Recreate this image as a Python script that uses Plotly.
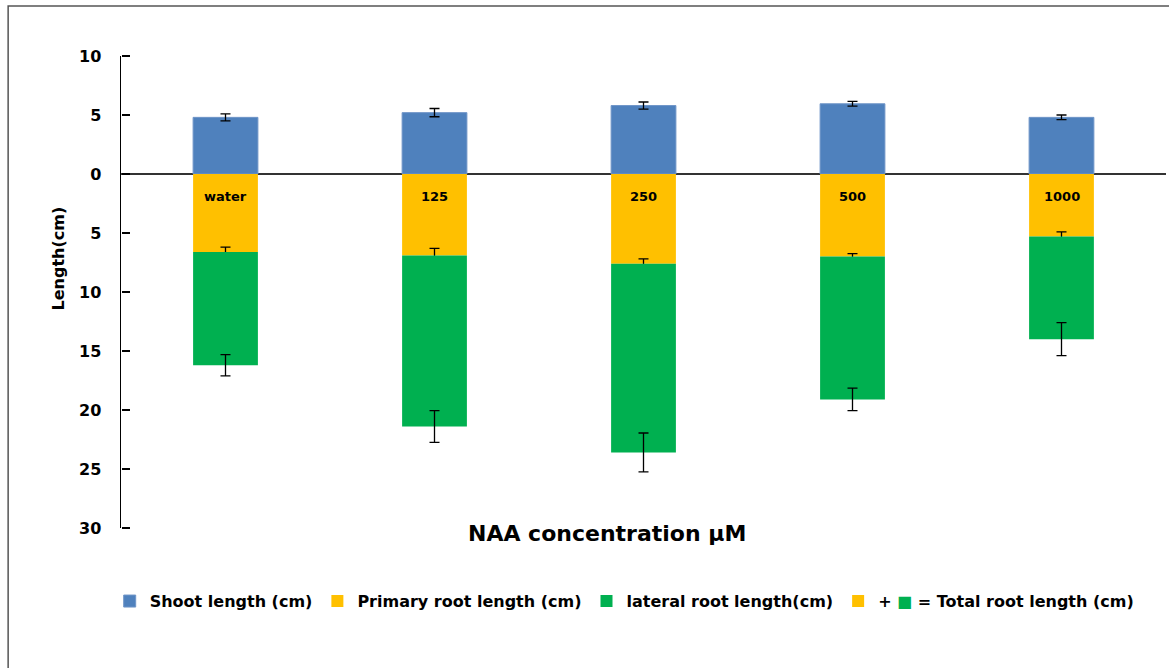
import plotly.graph_objects as go

categories = ["water", "125", "250", "500", "1000"]
shoot = [4.8, 5.2, 5.8, 5.95, 4.8]
shoot_err = [0.3, 0.35, 0.3, 0.2, 0.2]
primary = [6.6, 6.9, 7.6, 7.0, 5.3]
primary_err = [0.4, 0.6, 0.4, 0.25, 0.4]
lateral = [9.6, 14.5, 16.0, 12.1, 8.7]
total_err = [0.9, 1.35, 1.65, 0.95, 1.4]
tick_vals = [10, 5, 0, -5, -10, -15, -20, -25, -30]

BLUE = "#4F81BD"
YELLOW = "#FFC000"
GREEN = "#00B050"
FONT = "DejaVu Sans"

def err(vals):
    return dict(type="data", array=vals, color="black", thickness=1.3, width=5, visible=True)

fig = go.Figure()
fig.add_trace(go.Bar(x=categories, y=shoot, name="<b>Shoot length (cm)</b>",
                     marker=dict(color=BLUE, line=dict(color="#6F95C8", width=1)),
                     error_y=err(shoot_err)))
fig.add_trace(go.Bar(x=categories, y=[-v for v in primary], name="<b>Primary root length (cm)</b>",
                     marker=dict(color=YELLOW, line=dict(width=0)),
                     error_y=err(primary_err)))
fig.add_trace(go.Bar(x=categories, y=[-v for v in lateral], name="<b>lateral root length(cm)</b>",
                     marker=dict(color=GREEN, line=dict(width=0)),
                     error_y=err(total_err)))
fig.add_trace(go.Bar(x=[categories[0]], y=[None],
                     name="<b>+ <span style='color:" + GREEN + "'>■</span> = Total root length (cm)</b>",
                     marker=dict(color=YELLOW, line=dict(width=0)), showlegend=True))
# invisible helper trace so the tick-mark axis (y2) is drawn
fig.add_trace(go.Scatter(x=[categories[0]], y=[0], yaxis="y2", mode="markers",
                         marker=dict(opacity=0), showlegend=False, hoverinfo="skip"))

for i, c in enumerate(categories):
    fig.add_annotation(x=i, y=-1.9, text="<b>" + c + "</b>", showarrow=False,
                       font=dict(family=FONT, size=13, color="black"))

fig.add_annotation(xref="paper", yref="paper", x=0.465, y=-0.012, text="<b>NAA concentration µM</b>",
                   showarrow=False, font=dict(family=FONT, size=22, color="black"), yanchor="middle")
fig.add_annotation(xref="paper", yref="paper", x=-0.071, y=0.686, text="<b>Length(cm)</b>",
                   showarrow=False, textangle=-90, font=dict(family=FONT, size=16, color="black"))

fig.add_shape(type="rect", xref="paper", yref="paper", x0=-0.108, y0=-0.4, x1=1.02, y1=1.106,
              line=dict(color="#555555", width=1.5), layer="below")

fig.update_layout(
    width=1169, height=668,
    barmode="relative", bargap=0.69,
    plot_bgcolor="white", paper_bgcolor="white",
    margin=dict(l=121, r=3, t=56, b=140),
    font=dict(family=FONT, color="black"),
    legend=dict(orientation="h", x=0.482, y=-0.155, xanchor="center", yanchor="middle",
                font=dict(family=FONT, size=16, color="black"), traceorder="normal",
                itemwidth=30, tracegroupgap=0),
    xaxis=dict(type="category", range=[-0.5, 4.5], showticklabels=False, showline=False,
               showgrid=False, zeroline=False, ticks=""),
    yaxis=dict(range=[-30, 10], tickvals=tick_vals,
               ticktext=["<b>%d</b>\u00a0\u00a0\u00a0" % abs(v) for v in tick_vals],
               showgrid=False, showline=True, linecolor="black", linewidth=1.3,
               ticks="",
               tickfont=dict(family=FONT, size=16, color="black"),
               zeroline=True, zerolinecolor="#333333", zerolinewidth=1.5),
    yaxis2=dict(range=[-30, 10], tickvals=tick_vals, overlaying="y", side="right",
                anchor="free", position=0, showticklabels=False, showgrid=False,
                showline=False, zeroline=False, ticks="outside", ticklen=8,
                tickcolor="black", tickwidth=1.5),
)

fig.write_html("out.html")
